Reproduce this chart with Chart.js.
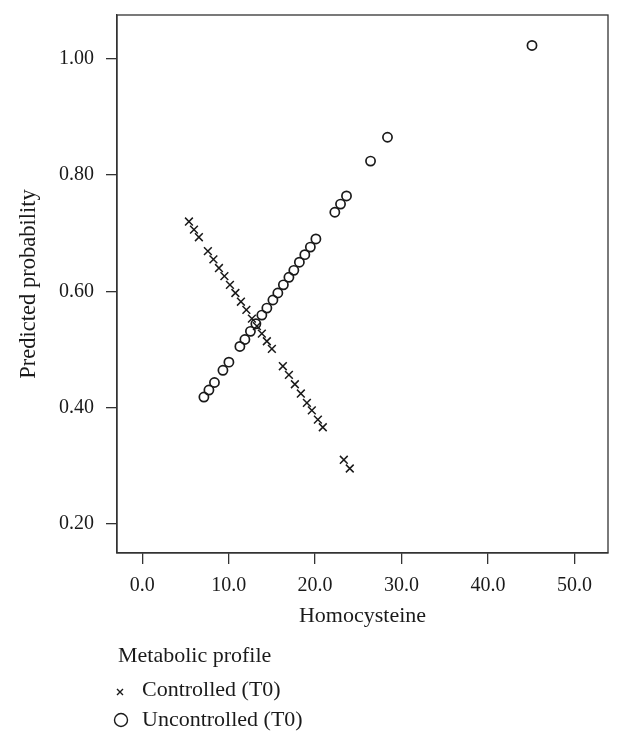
<!DOCTYPE html>
<html><head><meta charset="utf-8">
<script src="https://cdn.jsdelivr.net/npm/chart.js@4.4.1/dist/chart.umd.min.js"></script>
<style>html,body{margin:0;padding:0;background:#fff;} canvas{display:block;}</style>
</head><body>
<canvas id="c" width="622" height="742"></canvas>
<script>
// ---- data ----
const controlledHcy = [5.41, 5.99, 6.56, 7.60, 8.24, 8.88, 9.51, 10.15, 10.78, 11.42, 12.05, 12.69, 13.27, 13.84, 14.42, 15.00, 16.27, 16.97, 17.66, 18.35, 19.05, 19.62, 20.32, 20.89, 23.32, 24.01];
const controlledProb = [0.720, 0.706, 0.693, 0.669, 0.655, 0.640, 0.626, 0.611, 0.597, 0.582, 0.568, 0.553, 0.540, 0.527, 0.514, 0.501, 0.471, 0.456, 0.440, 0.424, 0.408, 0.395, 0.379, 0.366, 0.310, 0.295];
const uncontrolledHcy = [7.14, 7.72, 8.36, 9.34, 10.03, 11.30, 11.88, 12.52, 13.15, 13.84, 14.42, 15.12, 15.69, 16.33, 16.97, 17.54, 18.18, 18.81, 19.45, 20.09, 22.28, 22.94, 23.63, 26.41, 28.37, 45.08];
const uncontrolledProb = [0.418, 0.430, 0.443, 0.464, 0.478, 0.505, 0.517, 0.531, 0.544, 0.559, 0.571, 0.585, 0.597, 0.611, 0.624, 0.636, 0.650, 0.663, 0.676, 0.690, 0.736, 0.750, 0.764, 0.824, 0.865, 1.023];
const xTicks = [0, 10, 20, 30, 40, 50];
const xTickLabels = ['0.0', '10.0', '20.0', '30.0', '40.0', '50.0'];
const yTicks = [0.2, 0.4, 0.6, 0.8, 1.0];
const yTickLabels = ['0.20', '0.40', '0.60', '0.80', '1.00'];
const xTitle = 'Homocysteine';
const yTitle = 'Predicted probability';
const legendTitle = 'Metabolic profile';
const seriesNames = ['Controlled (T0)', 'Uncontrolled (T0)'];

const FONT = '"Liberation Serif", "Times New Roman", serif';
const INK = '#1a1a1a';
Chart.defaults.font.family = FONT;
Chart.defaults.color = INK;

const framePlugin = {
  id: 'frameLegend',
  afterDraw(chart) {
    const ctx = chart.ctx;
    const a = chart.chartArea;
    ctx.save();
    ctx.strokeStyle = '#333';
    ctx.lineWidth = 1.3;
    ctx.strokeRect(a.left, a.top, a.right - a.left, a.bottom - a.top);
    // legend
    ctx.fillStyle = INK;
    ctx.font = '22px ' + FONT;
    ctx.textBaseline = 'middle';
    ctx.textAlign = 'left';
    ctx.fillText(legendTitle, 118, 656);
    ctx.fillText(seriesNames[0], 142, 690);
    ctx.fillText(seriesNames[1], 142, 720);
    ctx.strokeStyle = INK;
    ctx.lineWidth = 1.4;
    // cross marker
    const cx = 120, cy = 692, r = 3;
    ctx.beginPath();
    ctx.moveTo(cx - r, cy - r); ctx.lineTo(cx + r, cy + r);
    ctx.moveTo(cx + r, cy - r); ctx.lineTo(cx - r, cy + r);
    ctx.stroke();
    // circle marker
    ctx.beginPath();
    ctx.arc(121, 720, 6.5, 0, Math.PI * 2);
    ctx.stroke();
    ctx.restore();
  }
};

const scaleCommon = {
  grid: { display: true, drawOnChartArea: false, drawTicks: true, tickLength: 11, color: '#333', lineWidth: 1.3 },
  border: { display: true, color: '#333', width: 1.3 },
};

new Chart(document.getElementById('c'), {
  type: 'scatter',
  data: {
    datasets: [
      {
        label: seriesNames[0],
        data: controlledHcy.map((x, i) => ({ x, y: controlledProb[i] })),
        pointStyle: 'crossRot',
        pointRadius: 5.5,
        borderWidth: 1.5,
        borderColor: INK,
        backgroundColor: INK,
      },
      {
        label: seriesNames[1],
        data: uncontrolledHcy.map((x, i) => ({ x, y: uncontrolledProb[i] })),
        pointStyle: 'circle',
        pointRadius: 4.6,
        borderWidth: 1.7,
        borderColor: INK,
        backgroundColor: 'rgba(0,0,0,0)',
      }
    ]
  },
  options: {
    responsive: false,
    animation: false,
    events: [],
    layout: { padding: { left: 0, right: 14, top: 15, bottom: 113 } },
    plugins: { legend: { display: false }, tooltip: { enabled: false } },
    scales: {
      x: {
        ...scaleCommon,
        type: 'linear',
        min: -2.91,
        max: 53.87,
        afterBuildTicks: (s) => { s.ticks = xTicks.map(v => ({ value: v })); },
        afterFit: (s) => { s.height = 76; s.paddingLeft = 0; s.paddingRight = 0; },
        ticks: { padding: 10, font: { size: 20 }, color: INK, maxRotation: 0, callback: (v, i) => xTickLabels[i] },
        title: { display: true, text: xTitle, font: { size: 22 }, color: INK, padding: { top: 0, bottom: 0 } },
      },
      y: {
        ...scaleCommon,
        type: 'linear',
        min: 0.1496,
        max: 1.0754,
        afterBuildTicks: (s) => { s.ticks = yTicks.map(v => ({ value: v })); },
        afterFit: (s) => { s.width = 117; s.paddingTop = 0; s.paddingBottom = 0; },
        ticks: { padding: 12, font: { size: 20 }, color: INK, callback: (v, i) => yTickLabels[i] },
        title: { display: true, text: yTitle, font: { size: 22.5 }, color: INK, padding: { top: 16, bottom: 0 } },
      }
    }
  },
  plugins: [framePlugin]
});
</script>
</body></html>
